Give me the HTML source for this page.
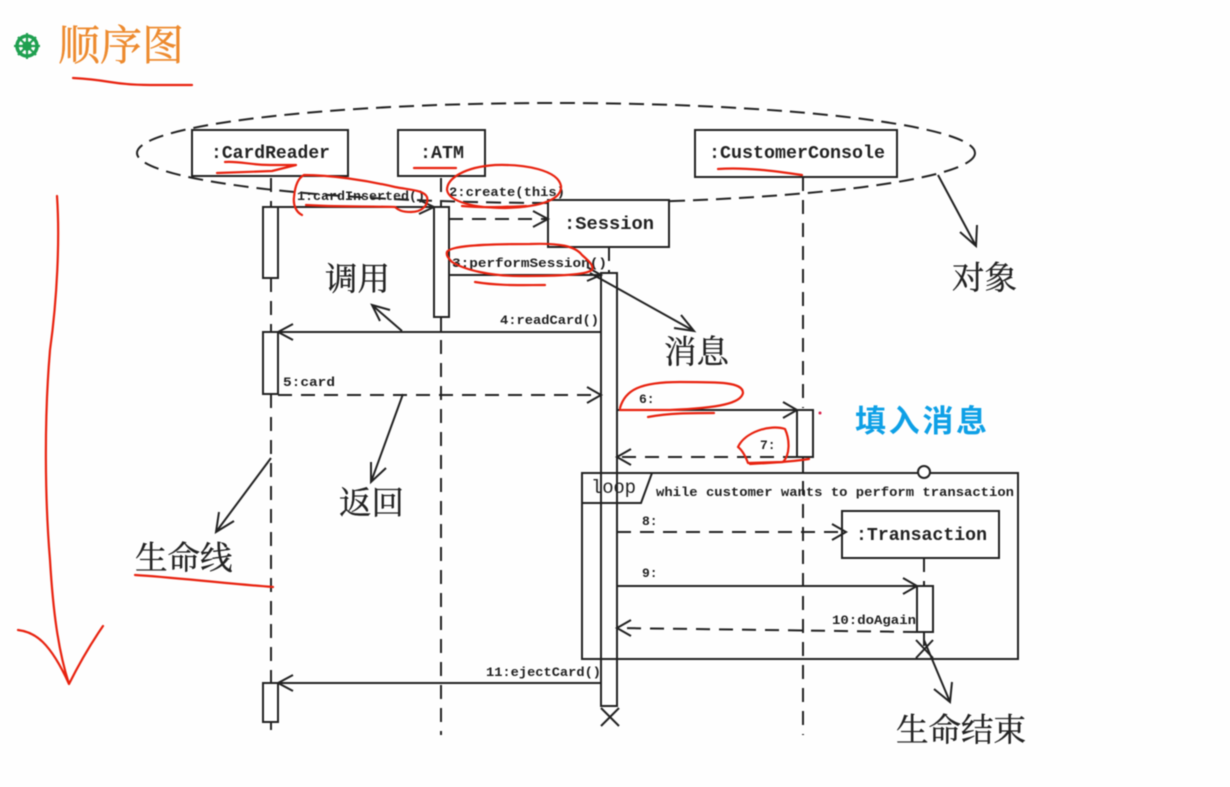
<!DOCTYPE html>
<html><head><meta charset="utf-8"><style>
html,body{margin:0;padding:0;background:#fff;width:1230px;height:787px;overflow:hidden}
svg{display:block;filter:blur(.55px)}
.m{font-family:"Liberation Mono","DejaVu Sans Mono",monospace;fill:#222;font-weight:bold}
.c{font-family:"Noto Serif CJK SC","Liberation Serif",serif;fill:#222;stroke:#222;stroke-width:.35}
.k{stroke:#222;stroke-width:2;fill:none}
.w{stroke:#222;stroke-width:2;fill:#fff}
.d{stroke:#222;stroke-width:2;fill:none;stroke-dasharray:14 9}
.r{stroke:#e8220f;stroke-width:2.2;fill:none;stroke-linecap:round;stroke-linejoin:round}
</style></head><body>
<svg width="1230" height="787" viewBox="0 0 1230 787" xmlns="http://www.w3.org/2000/svg">
<rect width="1230" height="787" fill="#fefefe"/>

<!-- title -->
<g transform="translate(27,46)" stroke="#1fa050" fill="none">
<circle r="10" stroke-width="3.5"/><circle r="3.5" stroke-width="2.5"/>
<path d="M0-13V13M-13 0H13M-9-9L9 9M-9 9L9-9" stroke-width="2.2"/>
</g>
<text x="58" y="60" font-size="42" fill="#ed8a2e" stroke="#ed8a2e" stroke-width=".4" style="font-family:'Noto Serif CJK SC',serif">顺序图</text>
<path class="r" d="M73 78Q92 79 110 82T150 85L192 85"/>

<!-- ellipse -->
<ellipse cx="556" cy="153" rx="419" ry="50" class="k" stroke-dasharray="15 8"/>

<!-- lifelines -->
<path class="d" d="M271 178V207M271 278V332M271 394V735"/>
<path class="d" d="M441 178V207M441 317V735"/>
<path class="d" d="M609 247V273"/>
<path class="d" d="M803 177V408M803 458V735"/>
<path class="d" d="M924 558V586M924 632V655"/>

<!-- objects -->
<rect x="192" y="130" width="156" height="46" class="w"/>
<rect x="398" y="130" width="87" height="46" class="w"/>
<rect x="695" y="130" width="202" height="47" class="w"/>
<rect x="548" y="200" width="121" height="47" class="w"/>
<rect x="842" y="511" width="157" height="47" class="w"/>
<text x="211" y="158" font-size="18" class="m" textLength="119" lengthAdjust="spacingAndGlyphs">:CardReader</text>
<text x="420" y="158" font-size="18" class="m" textLength="44" lengthAdjust="spacingAndGlyphs">:ATM</text>
<text x="709" y="158" font-size="18" class="m" textLength="176" lengthAdjust="spacingAndGlyphs">:CustomerConsole</text>
<text x="564" y="229" font-size="18" class="m" textLength="90" lengthAdjust="spacingAndGlyphs">:Session</text>
<text x="856" y="540" font-size="18" class="m" textLength="131" lengthAdjust="spacingAndGlyphs">:Transaction</text>

<!-- activations -->
<rect x="263" y="207" width="15" height="71" class="w"/>
<rect x="434" y="207" width="15" height="110" class="w"/>
<rect x="263" y="332" width="15" height="62" class="w"/>
<rect x="601" y="273" width="16" height="433" class="w"/>
<rect x="797" y="410" width="16" height="47" class="w"/>
<rect x="917" y="586" width="16" height="46" class="w"/>
<rect x="263" y="683" width="15" height="39" class="w"/>

<!-- loop frame -->
<rect x="582" y="473" width="436" height="186" class="k"/>
<path class="k" d="M582 503H641L652 473"/>
<circle cx="924" cy="472" r="6" class="w"/>
<text x="591" y="493" font-size="19" class="m" style="font-weight:normal" textLength="45">loop</text>
<text x="656" y="496" font-size="13" class="m" textLength="358" lengthAdjust="spacingAndGlyphs">while customer wants to perform transaction</text>

<!-- messages -->
<g class="k">
<path d="M278 207H434M419 200L434 207L419 214"/>
<path d="M449 275H601M587 267L601 275L587 281"/>
<path d="M601 332H278M293 324L278 332L293 340"/>
<path d="M617 410H797M783 402L797 410L783 418"/>
<path d="M617 586H917M903 578L917 586L903 594"/>
<path d="M601 683H278M293 675L278 683L293 691"/>
<path d="M601 708L619 726M619 708L601 726"/>
<path d="M916 640L933 658M933 640L916 658"/>
</g>
<g class="k" stroke-dasharray="14 9">
<path d="M449 219H548"/>
<path d="M278 395H601"/>
<path d="M797 457H617"/>
<path d="M617 532H846"/>
<path d="M917 632L617 628"/>
</g>
<g class="k">
<path d="M533 211L548 219L533 227"/>
<path d="M587 387L601 395L587 403"/>
<path d="M631 449L617 457L631 465"/>
<path d="M832 524L846 532L832 540"/>
<path d="M631 620L617 628L631 636"/>
</g>

<!-- message labels -->
<g class="m" font-size="13">
<text x="297" y="200" textLength="128" lengthAdjust="spacingAndGlyphs">1:cardInserted()</text>
<text x="449" y="196" textLength="116" lengthAdjust="spacingAndGlyphs">2:create(this)</text>
<text x="452" y="267" textLength="155" lengthAdjust="spacingAndGlyphs">3:performSession()</text>
<text x="500" y="324" textLength="99" lengthAdjust="spacingAndGlyphs">4:readCard()</text>
<text x="283" y="386" textLength="52" lengthAdjust="spacingAndGlyphs">5:card</text>
<text x="639" y="403">6:</text>
<text x="760" y="449">7:</text>
<text x="642" y="525">8:</text>
<text x="642" y="577">9:</text>
<text x="832" y="624" textLength="84" lengthAdjust="spacingAndGlyphs">10:doAgain</text>
<text x="486" y="676" textLength="115" lengthAdjust="spacingAndGlyphs">11:ejectCard()</text>
</g>

<!-- callout text -->
<g class="c" font-size="32.5">
<text x="325" y="290">调用</text>
<text x="952" y="289">对象</text>
<text x="664" y="363">消息</text>
<text x="339" y="514">返回</text>
<text x="135" y="569">生命线</text>
<text x="896" y="741">生命结束</text>
</g>
<text x="855" y="432" font-size="31" fill="#0ea0e6" style="font-family:'Noto Sans CJK SC',sans-serif;font-weight:bold" textLength="132">填入消息</text>

<!-- callout arrows -->
<g class="k">
<path d="M938 175L976 246M960 232L976 246L977 225"/>
<path d="M590 273L694 331M674 328L694 331L681 315"/>
<path d="M402 331L372 305M380 321L372 305L390 310"/>
<path d="M403 394L371 482M371 462L371 482L386 468"/>
<path d="M271 458L216 532M219 512L216 532L234 521"/>
<path d="M924 640L950 702M934 689L950 702L952 682"/>
</g>

<!-- red annotation strokes -->
<path class="r" d="M57 196C60 240 57 300 50 350C44 420 45 500 50 560C53 610 58 650 69 684C80 662 92 642 103 626M18 630C35 632 50 642 69 684"/>
<path class="r" d="M135 575C170 577 220 583 273 587"/>
<path class="r" d="M225 162C240 161 250 165 270 165L296 165L272 171L217 173"/>
<path class="r" d="M718 169C745 167 775 171 802 175"/>
<path class="r" d="M302 215C296 212 293 205 294 197C295 186 298 178 304 175C330 175 365 180 395 187C410 190 424 190 427 197C429 205 422 212 411 212C402 212 398 210 395 207"/>
<path class="r" d="M306 205C335 207 365 206 395 207"/>
<path class="r" d="M414 168H456"/>
<path class="r" d="M447 190C447 178 465 167 495 165C525 164 558 170 561 186C562 198 545 207 505 208C475 208 449 202 447 190Z"/>
<path class="r" d="M462 206C485 208 505 207 526 206"/>
<path class="r" d="M447 252C450 246 480 244 530 244C560 243 575 246 582 255C590 262 594 266 592 270C585 275 560 276 520 276C490 276 465 270 452 262C448 258 446 255 447 252Z"/>
<path class="r" d="M475 282C500 286 520 285 545 285"/>
<path class="r" d="M620 408C625 390 640 382 680 382C720 382 743 382 743 393C741 403 720 408 670 410H620"/>
<path class="r" d="M648 417C670 413 690 413 714 413"/>
<path class="r" d="M738 447C745 432 770 424 785 429C790 440 790 455 783 462L748 463C745 455 742 450 738 447"/>
<path class="r" d="M750 464C770 463 790 462 809 459"/>
<circle cx="820" cy="413" r="1.5" fill="#d9204a"/>
</svg>
</body></html>
